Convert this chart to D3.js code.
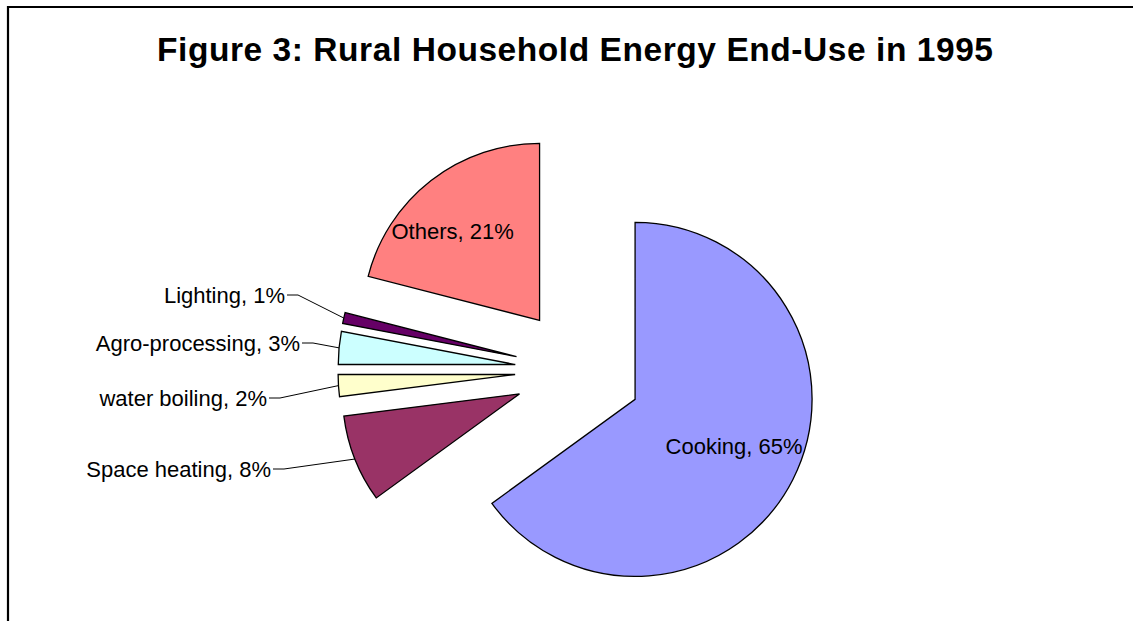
<!DOCTYPE html>
<html>
<head>
<meta charset="utf-8">
<script src="https://cdn.jsdelivr.net/npm/d3@7"></script>
<style>
  body { margin: 0; background: #fff; }
  svg text { font-family: "Liberation Sans", Arial, sans-serif; fill: #000; }
</style>
</head>
<body>
<script>
var w = 1133;
var h = 621;

// data, clockwise from 12 o'clock
var categories = ["Cooking", "Space heating", "water boiling", "Agro-processing", "Lighting", "Others"];
var shares = [65, 8, 2, 3, 1, 21];
var colours = ["#9999FF", "#993366", "#FFFFCC", "#CCFFFF", "#660066", "#FF8080"];
var title = "Figure 3: Rural Household Energy End-Use in 1995";

// label layout: inside labels get an offset from the slice apex,
// outside labels get the elbow point of the leader line
var labelLayout = [
  {inside: true, dx: 99, dy: 47},
  {inside: false, x: 284, y: 469},
  {inside: false, x: 280, y: 398},
  {inside: false, x: 313, y: 343},
  {inside: false, x: 298, y: 295},
  {inside: true, dx: -87, dy: -89}
];

var cx = 578.5, cy = 370.5;   // pie centre before exploding
var r = 177;
var explode = 63.5;

var svg = d3.select("body").append("svg").attr("width", w).attr("height", h);

// frame
svg.append("path")
  .attr("d", "M8," + (h + 5) + "V7H" + (w + 5))
  .attr("fill", "none").attr("stroke", "#000").attr("stroke-width", 2.2);

svg.append("text")
  .attr("x", 575).attr("y", 61)
  .attr("text-anchor", "middle")
  .attr("font-size", 33.5).attr("font-weight", "bold")
  .attr("textLength", 836).attr("lengthAdjust", "spacing")
  .text(title);

var rows = categories.map(function(c, i){ return {name: c, value: shares[i], colour: colours[i], lab: labelLayout[i]}; });

var pie = d3.pie().sort(null).value(function(d){ return d.value; });
var arc = d3.arc().innerRadius(0).outerRadius(r);
var arcs = pie(rows);

var g = svg.append("g").attr("transform", "translate(" + cx + "," + cy + ")");

arcs.forEach(function(a){
  var mid = (a.startAngle + a.endAngle) / 2;
  a.ox = Math.sin(mid) * explode;
  a.oy = -Math.cos(mid) * explode;
  a.mid = mid;
});

g.selectAll("path.slice").data(arcs).enter().append("path")
  .attr("class", "slice")
  .attr("transform", function(a){ return "translate(" + a.ox + "," + a.oy + ")"; })
  .attr("d", arc)
  .attr("fill", function(a){ return a.data.colour; })
  .attr("stroke", "#000").attr("stroke-width", 1.3)
  .attr("stroke-linejoin", "miter");

arcs.forEach(function(a){
  var lab = a.data.lab;
  var txt = a.data.name + ", " + a.data.value + "%";
  if (lab.inside) {
    g.append("text")
      .attr("x", a.ox + lab.dx).attr("y", a.oy + lab.dy)
      .attr("text-anchor", "middle").attr("dy", "0.36em")
      .attr("font-size", 22)
      .text(txt);
  } else {
    var px = a.ox + Math.sin(a.mid) * r;
    var py = a.oy - Math.cos(a.mid) * r;
    var ex = lab.x - cx, ey = lab.y - cy;
    g.append("polyline")
      .attr("points", [[px, py], [ex, ey], [ex - 11, ey]].map(function(p){ return p.join(","); }).join(" "))
      .attr("fill", "none").attr("stroke", "#000").attr("stroke-width", 1);
    g.append("text")
      .attr("x", ex - 13).attr("y", ey)
      .attr("text-anchor", "end").attr("dy", "0.36em")
      .attr("font-size", 22)
      .text(txt);
  }
});
</script>
</body>
</html>
